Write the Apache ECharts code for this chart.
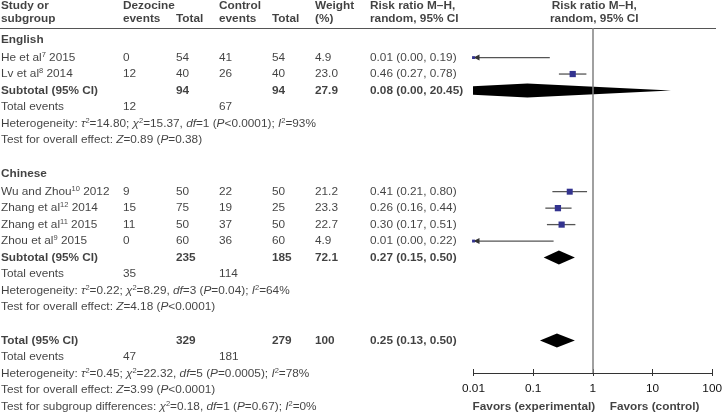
<!DOCTYPE html>
<html>
<head>
<meta charset="utf-8">
<script src="https://cdn.jsdelivr.net/npm/echarts@6/dist/echarts.min.js"></script>
<style>html,body{margin:0;padding:0;background:#fff}#main{width:725px;height:413px}</style>
</head>
<body>
<div id="main"></div>
<script>
// ---------------- data ----------------
var groups = ['English', 'Chinese'];
var studyGroup = [0, 0, 1, 1, 1, 1];
var studyNames = ['He et al', 'Lv et al', 'Wu and Zhou', 'Zhang et al', 'Zhang et al', 'Zhou et al'];
var studyRefs = ['7', '8', '10', '12', '11', '9'];
var studyYears = ['2015', '2014', '2012', '2014', '2015', '2015'];
var dezEvents = [0, 12, 9, 15, 11, 0];
var dezTotal = [54, 40, 50, 75, 50, 60];
var ctlEvents = [41, 26, 22, 19, 37, 36];
var ctlTotal = [54, 40, 50, 25, 50, 60];
var weights = [4.9, 23.0, 21.2, 23.3, 22.7, 4.9];
var rr = [0.01, 0.46, 0.41, 0.26, 0.30, 0.01];
var rrLow = [0.00, 0.27, 0.21, 0.16, 0.17, 0.00];
var rrHigh = [0.19, 0.78, 0.80, 0.44, 0.51, 0.22];

// English subtotal, Chinese subtotal, overall total
var sumNames = ['Subtotal (95% CI)', 'Subtotal (95% CI)', 'Total (95% CI)'];
var sumDezTotal = [94, 235, 329];
var sumCtlTotal = [94, 185, 279];
var sumWeight = ['27.9', '72.1', '100'];
var sumRR = [0.08, 0.27, 0.25];
var sumLow = [0.00, 0.15, 0.13];
var sumHigh = [20.45, 0.50, 0.50];
var sumDezEvents = [12, 35, 47];
var sumCtlEvents = [67, 114, 181];
var hetTau2 = ['14.80', '0.22', '0.45'];
var hetChi2 = ['15.37', '8.29', '22.32'];
var hetDf = [1, 3, 5];
var hetP = ['<0.0001', '=0.04', '=0.0005'];
var hetI2 = [93, 64, 78];
var effZ = ['0.89', '4.18', '3.99'];
var effP = ['=0.38', '<0.0001', '<0.0001'];
var subChi2 = '0.18', subDf = 1, subP = '=0.67', subI2 = 0;

var tickValues = [0.01, 0.1, 1, 10, 100];
var tickLabels = ['0.01', '0.1', '1', '10', '100'];

// ---------------- layout ----------------
var W = 716, H = 413;
var ROW_MIN = -3.5, ROW_MAX = 21.6;           // grid 0 spans whole height
var PLOT_LEFT = 473.5, PLOT_RIGHT = 715, PLOT_TOP = 28, PLOT_BOTTOM = 373;
var COL = {study: 1, dezEv: 123, dezTot: 176, ctlEv: 219, ctlTot: 272, weight: 315, rr: 370};
var FONT = "'Liberation Sans', Arial, sans-serif";
var FS = 11.8;
var TXT = '#111';

function rowAt(px) { return ROW_MIN + px / H * (ROW_MAX - ROW_MIN); }
var plotMid = (PLOT_LEFT + PLOT_RIGHT) / 2;
var plotQ = (PLOT_RIGHT - PLOT_LEFT) / 4;

var cells = [], studyPts = [], diamonds = [];
function add(x, r, text, bold, align) {
    cells.push({
        value: [x, r], text: text,
        label: {fontWeight: bold ? 'bold' : 'normal', align: align || 'left'}
    });
}
function ci(e, l, h) { return e.toFixed(2) + ' (' + l.toFixed(2) + ', ' + h.toFixed(2) + ')'; }
function het(k) {
    return 'Heterogeneity: {it|τ}{sp|2}=' + hetTau2[k] + '; {it|χ}{sp|2}=' + hetChi2[k] +
        ', {it|df}=' + hetDf[k] + ' ({it|P}' + hetP[k] + '); {it|I}{sp|2}=' + hetI2[k] + '%';
}
function eff(k) { return 'Test for overall effect: {it|Z}=' + effZ[k] + ' ({it|P}' + effP[k] + ')'; }

// header
add(COL.study, -2.75, 'Study or\nsubgroup', true);
add(COL.dezEv, -2.75, 'Dezocine\nevents', true);
add(COL.dezTot, -2.35, 'Total', true);
add(COL.ctlEv, -2.75, 'Control\nevents', true);
add(COL.ctlTot, -2.35, 'Total', true);
add(COL.weight, -2.75, 'Weight\n(%)', true);
add(COL.rr, -2.75, 'Risk ratio M–H,\nrandom, 95% CI', true);
add(plotMid, -2.75, 'Risk ratio M–H,\nrandom, 95% CI', true, 'center');

var r = -1.1;
groups.forEach(function (g, gi) {
    add(COL.study, r, g, true);
    r += 1.1;
    for (var i = 0; i < studyNames.length; i++) {
        if (studyGroup[i] !== gi) continue;
        add(COL.study, r, studyNames[i] + '{sp|' + studyRefs[i] + '} ' + studyYears[i]);
        add(COL.dezEv, r, String(dezEvents[i]));
        add(COL.dezTot, r, String(dezTotal[i]));
        add(COL.ctlEv, r, String(ctlEvents[i]));
        add(COL.ctlTot, r, String(ctlTotal[i]));
        add(COL.weight, r, weights[i].toFixed(1));
        add(COL.rr, r, ci(rr[i], rrLow[i], rrHigh[i]));
        studyPts.push([rr[i], rrLow[i], rrHigh[i], r, weights[i]]);
        r += 1;
    }
    add(COL.study, r, sumNames[gi], true);
    add(COL.dezTot, r, String(sumDezTotal[gi]), true);
    add(COL.ctlTot, r, String(sumCtlTotal[gi]), true);
    add(COL.weight, r, sumWeight[gi], true);
    add(COL.rr, r, ci(sumRR[gi], sumLow[gi], sumHigh[gi]), true);
    diamonds.push([sumRR[gi], sumLow[gi], sumHigh[gi], r]);
    r += 1;
    add(COL.study, r, 'Total events');
    add(COL.dezEv, r, String(sumDezEvents[gi]));
    add(COL.ctlEv, r, String(sumCtlEvents[gi]));
    r += 1;
    add(COL.study, r, het(gi)); r += 1;
    add(COL.study, r, eff(gi)); r += 2.05;
});
// overall
add(COL.study, r, sumNames[2], true);
add(COL.dezTot, r, String(sumDezTotal[2]), true);
add(COL.ctlTot, r, String(sumCtlTotal[2]), true);
add(COL.weight, r, sumWeight[2], true);
add(COL.rr, r, ci(sumRR[2], sumLow[2], sumHigh[2]), true);
diamonds.push([sumRR[2], sumLow[2], sumHigh[2], r]);
r += 1;
add(COL.study, r, 'Total events');
add(COL.dezEv, r, String(sumDezEvents[2]));
add(COL.ctlEv, r, String(sumCtlEvents[2]));
r += 1;
add(COL.study, r, het(2)); r += 1;
add(COL.study, r, eff(2)); r += 1;
add(COL.study, r, 'Test for subgroup differences: {it|χ}{sp|2}=' + subChi2 + ', {it|df}=' + subDf +
    ' ({it|P}' + subP + '); {it|I}{sp|2}=' + subI2 + '%');
add(plotMid - plotQ, r, 'Favors (experimental)', true, 'center');
add(plotMid + plotQ, r, 'Favors (control)', true, 'center');

function tickText(v) {
    var e = Math.round(Math.log10(v));
    for (var i = 0; i < tickValues.length; i++) {
        if (Math.round(Math.log10(tickValues[i])) === e) return tickLabels[i];
    }
    return '';
}

var dom = document.getElementById('main');
var myChart = echarts.init(dom, null, {renderer: 'canvas'});

option = {
    animation: false,
    backgroundColor: '#fff',
    grid: [
        {left: 0, top: 0, width: W, height: H},
        {left: PLOT_LEFT, top: PLOT_TOP, width: PLOT_RIGHT - PLOT_LEFT, height: PLOT_BOTTOM - PLOT_TOP}
    ],
    xAxis: [
        {gridIndex: 0, type: 'value', min: 0, max: W, show: false},
        {
            gridIndex: 1, type: 'log', logBase: 10, min: 0.01, max: 100, splitNumber: 4, position: 'bottom',
            axisLine: {onZero: false, lineStyle: {color: '#333', width: 1}},
            axisTick: {inside: true, length: 4, lineStyle: {color: '#333', width: 1}},
            axisLabel: {margin: 10, fontSize: FS, fontFamily: FONT, color: TXT, formatter: tickText,
                showMinLabel: true, showMaxLabel: true},
            splitLine: {show: false}
        },
        {
            gridIndex: 1, type: 'log', logBase: 10, min: 0.01, max: 100, splitNumber: 4, position: 'bottom',
            axisLine: {show: false, onZero: false},
            axisTick: {inside: false, length: 3, lineStyle: {color: '#333', width: 1}},
            axisLabel: {show: false},
            splitLine: {show: false}
        }
    ],
    yAxis: [
        {gridIndex: 0, type: 'value', min: ROW_MIN, max: ROW_MAX, inverse: true, show: false},
        {gridIndex: 1, type: 'value', min: rowAt(PLOT_TOP), max: rowAt(PLOT_BOTTOM), inverse: true, show: false}
    ],
    series: [
        {
            // table text
            type: 'scatter', xAxisIndex: 0, yAxisIndex: 0, symbolSize: 0, silent: true,
            data: cells,
            label: {
                show: true, position: 'inside', verticalAlign: 'middle', lineHeight: 13.5,
                fontSize: FS, fontFamily: FONT, color: TXT,
                formatter: function (p) { return p.data.text; },
                rich: {
                    it: {fontStyle: 'italic', fontSize: FS, fontFamily: FONT, color: TXT},
                    sp: {fontSize: 7.5, fontFamily: FONT, color: TXT, verticalAlign: 'top', lineHeight: 9}
                }
            },
            markLine: {
                silent: true, symbol: 'none', label: {show: false},
                lineStyle: {color: '#555', width: 1, type: 'solid'},
                data: [{yAxis: rowAt(PLOT_TOP)}]
            }
        },
        {
            // pooled diamonds + line of no effect
            type: 'custom', xAxisIndex: 1, yAxisIndex: 1, clip: true, silent: true,
            data: diamonds,
            renderItem: function (params, api) {
                var est = api.value(0), hi = api.value(2), row = api.value(3);
                // lower limit shown as 0.00: draw it symmetric to the upper one on the log scale
                var lo = api.value(1) > 0 ? api.value(1) : est * est / hi;
                var c = api.coord([est, row]), l = api.coord([lo, row]), h = api.coord([hi, row]);
                var hh = 7;
                return {
                    type: 'polygon',
                    shape: {points: [[l[0], c[1]], [c[0], c[1] - hh], [h[0], c[1]], [c[0], c[1] + hh]]},
                    style: {fill: '#000'}
                };
            },
            markLine: {
                silent: true, symbol: 'none', label: {show: false},
                lineStyle: {color: '#808080', width: 1.5, type: 'solid'},
                data: [{xAxis: 1}]
            }
        },
        {
            // individual studies
            type: 'custom', xAxisIndex: 1, yAxisIndex: 1, clip: false, silent: true,
            data: studyPts,
            renderItem: function (params, api) {
                var est = api.value(0), lo = api.value(1), hi = api.value(2), row = api.value(3), w = api.value(4);
                var cs = params.coordSys;
                var c = api.coord([est, row]);
                var xHi = api.coord([hi, row])[0];
                var cut = lo < 0.01;
                var xLo = cut ? cs.x : api.coord([lo, row])[0];
                var s = Math.sqrt(w) * 1.3;
                var kids = [{
                    type: 'line',
                    shape: {x1: xLo, y1: c[1], x2: xHi, y2: c[1]},
                    style: {stroke: '#555', lineWidth: 1.3}
                }];
                if (cut) {
                    kids.push({
                        type: 'polygon',
                        shape: {points: [[cs.x, c[1]], [cs.x + 6, c[1] - 3], [cs.x + 6, c[1] + 3]]},
                        style: {fill: '#333'}
                    });
                }
                kids.push({
                    type: 'rect',
                    shape: {x: c[0] - s / 2, y: c[1] - s / 2, width: s, height: s},
                    style: {fill: '#33338f'}
                });
                return {type: 'group', children: kids};
            }
        }
    ]
};
if (option && typeof option === "object") {
    myChart.setOption(option, true);
}
</script>
</body>
</html>
